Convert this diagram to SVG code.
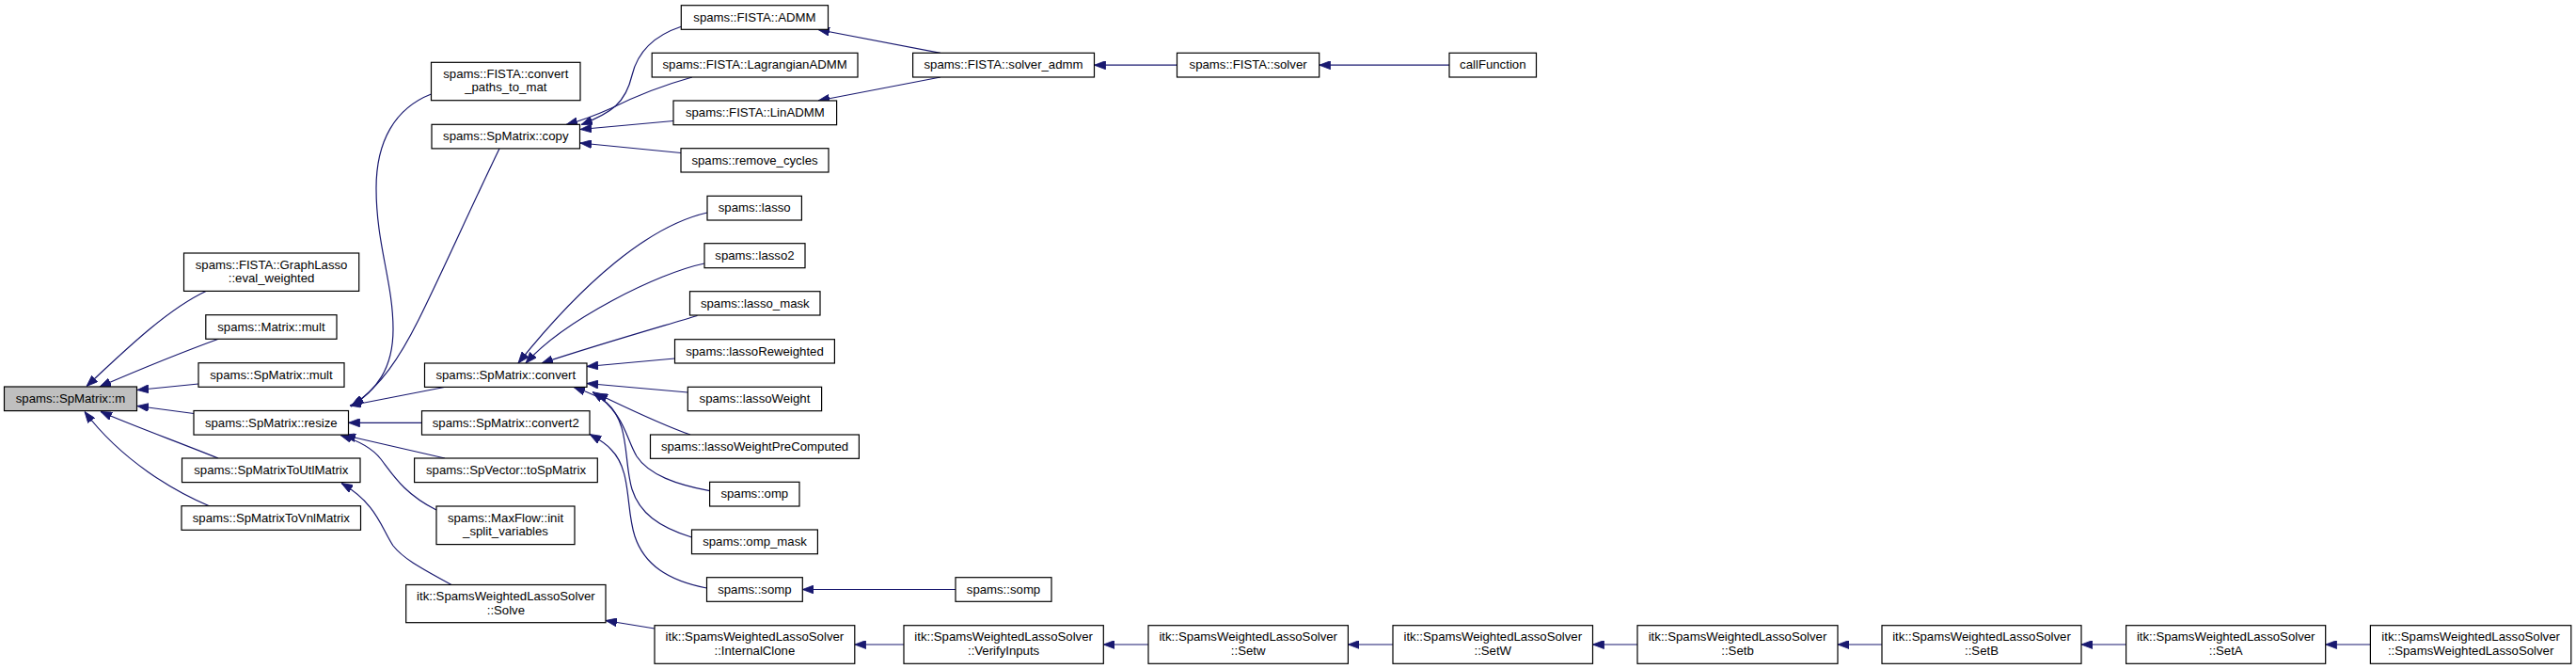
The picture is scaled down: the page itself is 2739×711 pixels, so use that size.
<svg xmlns="http://www.w3.org/2000/svg" width="2739" height="711" viewBox="0 0 2739 711">
<style>
.n rect{fill:#fff;stroke:#000;stroke-width:1.2}
.n.hl rect{fill:#bfbfbf}
.n text{font-family:"Liberation Sans",Arial,Helvetica,sans-serif;font-size:13.2px;fill:#000;text-anchor:middle}
#edges path{fill:none;stroke:#191970;stroke-width:1.2;marker-end:url(#ah)}
</style>
<defs>
<marker id="ah" viewBox="0 0 12 9" refX="12" refY="4.5" markerWidth="12" markerHeight="9" markerUnits="userSpaceOnUse" orient="auto">
<path d="M0,0 L12,4.5 L0,9 z" fill="#191970" stroke="#191970" stroke-width="0.8"/>
</marker>
</defs>
<rect width="2739" height="711" fill="#fff"/>
<g id="edges">
<path d="M219,309.5 C175,330 125,380 92,410.5"/>
<path d="M233,360 C200,372 150,392 106,411"/>
<path d="M211,408 L146,414.5"/>
<path d="M206,439.5 L146,431.5"/>
<path d="M232,487 C190,470 140,452 107,437.5"/>
<path d="M223,538 C185,522 130,490 90,437.5"/>
<path d="M458.5,100 C420,115 400,150 400,200 C400,260 418,300 418,350 C418,392 400,415 373,432"/>
<path d="M531,158 C500,222 470,290 445,340 C425,380 405,410 375,431"/>
<path d="M475,411 L372,431"/>
<path d="M448.5,449.3 L370.5,449.3"/>
<path d="M473,487 L366,462.5"/>
<path d="M464,542 C430,525 418,505 405,488 C395,475 380,468 362,462.5"/>
<path d="M480,621.5 C450,605 430,595 418,580 C405,560 400,535 363,513.5"/>
<path d="M724.3,28.3 C695,38 678,55 672,80 C665,110 650,120 618,132.5"/>
<path d="M736,82 C700,92 670,105 650,115 C630,124 615,129 602,132.5"/>
<path d="M716,128.5 L617,137.5"/>
<path d="M724,162.5 L617,152"/>
<path d="M1000,56.3 L870,31.5"/>
<path d="M1000,82 L870,107"/>
<path d="M1251.5,69.2 L1163.5,69.2"/>
<path d="M1541,69.2 L1402.7,69.2"/>
<path d="M752,226 C690,240 620,300 551,386"/>
<path d="M749,280 C700,290 600,340 559,386"/>
<path d="M741.5,335.5 C700,348 640,365 576,386"/>
<path d="M717.5,381 L624,389.5"/>
<path d="M731.3,417 L624,407.5"/>
<path d="M734,462 C700,450 670,435 634,418"/>
<path d="M754.6,521.7 C720,515 690,505 677,485 C665,465 665,440 630,416.5"/>
<path d="M735.5,571 C700,560 680,545 672,520 C663,490 670,450 645,428 C635,420 620,415 610,411.5"/>
<path d="M751.5,625 C710,617 685,600 675,570 C665,540 672,500 650,478 C643,470 635,466 627,461.5"/>
<path d="M1016,626.5 L853.3,626.5"/>
<path d="M696,668 L644,659.5"/>
<path d="M961,685 L908.8,685"/>
<path d="M1221,685 L1173.3,685"/>
<path d="M1481,685 L1433.4,685"/>
<path d="M1741,685 L1693.5,685"/>
<path d="M2001,685 L1954,685"/>
<path d="M2260.6,685 L2213,685"/>
<path d="M2520.4,685 L2472.7,685"/>
</g>
<g id="n_m" class="n hl"><rect x="4.5" y="411" width="141" height="25.6"/><text x="75" y="428">spams::SpMatrix::m</text></g>
<g id="n_graphlasso" class="n"><rect x="195.5" y="269" width="186.2" height="40.4"/><text x="288.6" y="285.5">spams::FISTA::GraphLasso</text><text x="288.6" y="300">::eval_weighted</text></g>
<g id="n_matrix_mult" class="n"><rect x="218.8" y="334.7" width="139.2" height="25.6"/><text x="288.4" y="351.7">spams::Matrix::mult</text></g>
<g id="n_spmatrix_mult" class="n"><rect x="211" y="385.7" width="155" height="25.6"/><text x="288.5" y="402.7">spams::SpMatrix::mult</text></g>
<g id="n_resize" class="n"><rect x="206" y="436.5" width="164.5" height="25.6"/><text x="288.3" y="453.5">spams::SpMatrix::resize</text></g>
<g id="n_utl" class="n"><rect x="193.5" y="487" width="189.5" height="25.6"/><text x="288.3" y="504">spams::SpMatrixToUtlMatrix</text></g>
<g id="n_vnl" class="n"><rect x="193" y="537.7" width="190.5" height="25.6"/><text x="288.3" y="554.7">spams::SpMatrixToVnlMatrix</text></g>
<g id="n_convert_paths" class="n"><rect x="458.5" y="66.3" width="158.5" height="40.4"/><text x="537.8" y="82.8">spams::FISTA::convert</text><text x="537.8" y="97.3">_paths_to_mat</text></g>
<g id="n_copy" class="n"><rect x="459" y="132.3" width="157.5" height="25.6"/><text x="537.8" y="149.3">spams::SpMatrix::copy</text></g>
<g id="n_convert" class="n"><rect x="451.5" y="386" width="172.5" height="25.4"/><text x="537.8" y="402.8">spams::SpMatrix::convert</text></g>
<g id="n_convert2" class="n"><rect x="448.5" y="436.7" width="178.5" height="25.4"/><text x="537.8" y="453.5">spams::SpMatrix::convert2</text></g>
<g id="n_tospmatrix" class="n"><rect x="440.6" y="487" width="194.7" height="25.6"/><text x="538" y="504">spams::SpVector::toSpMatrix</text></g>
<g id="n_maxflow" class="n"><rect x="464" y="538" width="147" height="40.6"/><text x="537.5" y="554.5">spams::MaxFlow::init</text><text x="537.5" y="569">_split_variables</text></g>
<g id="n_solve" class="n"><rect x="431.7" y="621.5" width="212.3" height="40.2"/><text x="537.9" y="638">itk::SpamsWeightedLassoSolver</text><text x="537.9" y="652.5">::Solve</text></g>
<g id="n_admm" class="n"><rect x="724.3" y="5.7" width="156.2" height="25.6"/><text x="802.4" y="22.7">spams::FISTA::ADMM</text></g>
<g id="n_lagrangian" class="n"><rect x="693.2" y="56.3" width="218.8" height="25.7"/><text x="802.6" y="73.3">spams::FISTA::LagrangianADMM</text></g>
<g id="n_linadmm" class="n"><rect x="716" y="107" width="173.6" height="25.7"/><text x="802.8" y="124">spams::FISTA::LinADMM</text></g>
<g id="n_remove_cycles" class="n"><rect x="724" y="157.7" width="157" height="25.3"/><text x="802.5" y="174.5">spams::remove_cycles</text></g>
<g id="n_lasso" class="n"><rect x="752" y="208.3" width="100.4" height="25.7"/><text x="802.2" y="225.3">spams::lasso</text></g>
<g id="n_lasso2" class="n"><rect x="749" y="258.7" width="107" height="26"/><text x="802.5" y="275.7">spams::lasso2</text></g>
<g id="n_lasso_mask" class="n"><rect x="733.5" y="309.7" width="138.5" height="25.3"/><text x="802.8" y="326.5">spams::lasso_mask</text></g>
<g id="n_lassoreweighted" class="n"><rect x="717.5" y="360.7" width="169.9" height="25.3"/><text x="802.5" y="377.5">spams::lassoReweighted</text></g>
<g id="n_lassoweight" class="n"><rect x="731.3" y="411.3" width="142.3" height="25.4"/><text x="802.5" y="428.2">spams::lassoWeight</text></g>
<g id="n_lassoweightprecomputed" class="n"><rect x="691.5" y="462" width="221.9" height="25.3"/><text x="802.5" y="478.8">spams::lassoWeightPreComputed</text></g>
<g id="n_omp" class="n"><rect x="754.6" y="512.3" width="95.4" height="25.7"/><text x="802.3" y="529.3">spams::omp</text></g>
<g id="n_omp_mask" class="n"><rect x="735.5" y="563" width="133.9" height="25.7"/><text x="802.5" y="580">spams::omp_mask</text></g>
<g id="n_somp" class="n"><rect x="751.5" y="613.7" width="101.8" height="25.6"/><text x="802.4" y="630.7">spams::somp</text></g>
<g id="n_internalclone" class="n"><rect x="696" y="664.7" width="212.8" height="40.6"/><text x="802.4" y="681.2">itk::SpamsWeightedLassoSolver</text><text x="802.4" y="695.7">::InternalClone</text></g>
<g id="n_solver_admm" class="n"><rect x="970.6" y="56.3" width="192.9" height="25.7"/><text x="1067" y="73.3">spams::FISTA::solver_admm</text></g>
<g id="n_somp2" class="n"><rect x="1016" y="613.7" width="102" height="25.6"/><text x="1067" y="630.7">spams::somp</text></g>
<g id="n_verifyinputs" class="n"><rect x="961" y="664.7" width="212.3" height="40.6"/><text x="1067.1" y="681.2">itk::SpamsWeightedLassoSolver</text><text x="1067.1" y="695.7">::VerifyInputs</text></g>
<g id="n_fista_solver" class="n"><rect x="1251.5" y="56.3" width="151.2" height="25.7"/><text x="1327.1" y="73.3">spams::FISTA::solver</text></g>
<g id="n_setw_lower" class="n"><rect x="1221" y="664.7" width="212.4" height="40.6"/><text x="1327.2" y="681.2">itk::SpamsWeightedLassoSolver</text><text x="1327.2" y="695.7">::Setw</text></g>
<g id="n_callfunction" class="n"><rect x="1541" y="56.3" width="92.5" height="25.7"/><text x="1587.3" y="73.3">callFunction</text></g>
<g id="n_setw_upper" class="n"><rect x="1481" y="664.7" width="212.5" height="40.6"/><text x="1587.3" y="681.2">itk::SpamsWeightedLassoSolver</text><text x="1587.3" y="695.7">::SetW</text></g>
<g id="n_setb_lower" class="n"><rect x="1741" y="664.7" width="213" height="40.6"/><text x="1847.5" y="681.2">itk::SpamsWeightedLassoSolver</text><text x="1847.5" y="695.7">::Setb</text></g>
<g id="n_setb_upper" class="n"><rect x="2001" y="664.7" width="212" height="40.6"/><text x="2107" y="681.2">itk::SpamsWeightedLassoSolver</text><text x="2107" y="695.7">::SetB</text></g>
<g id="n_seta" class="n"><rect x="2260.6" y="664.7" width="212.1" height="40.6"/><text x="2366.7" y="681.2">itk::SpamsWeightedLassoSolver</text><text x="2366.7" y="695.7">::SetA</text></g>
<g id="n_ctor" class="n"><rect x="2520.4" y="664.7" width="213.4" height="40.6"/><text x="2627.1" y="681.2">itk::SpamsWeightedLassoSolver</text><text x="2627.1" y="695.7">::SpamsWeightedLassoSolver</text></g>
</svg>
